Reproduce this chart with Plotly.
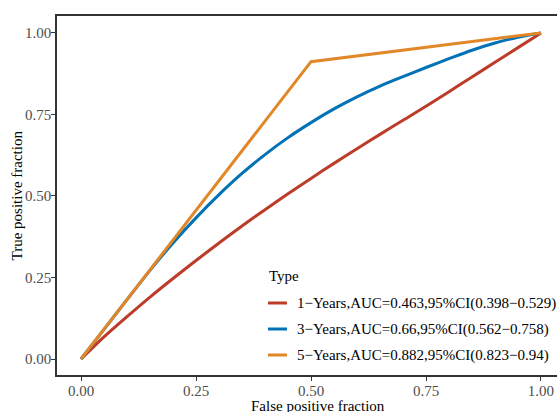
import plotly.graph_objects as go

# ---- data ----
fpr = [0.00, 0.05, 0.10, 0.15, 0.20, 0.25, 0.30, 0.35, 0.40, 0.45, 0.50,
       0.55, 0.60, 0.65, 0.70, 0.75, 0.80, 0.85, 0.90, 0.95, 1.00]
tpr_1y = [0.000, 0.068, 0.130, 0.190, 0.247, 0.302, 0.356, 0.408, 0.458, 0.507, 0.554,
          0.600, 0.645, 0.689, 0.732, 0.775, 0.820, 0.865, 0.910, 0.955, 1.000]
tpr_3y = [0.000, 0.091, 0.182, 0.272, 0.356, 0.433, 0.504, 0.569, 0.627, 0.679, 0.725,
          0.767, 0.804, 0.837, 0.866, 0.894, 0.921, 0.947, 0.969, 0.987, 1.000]
fpr_5y = [0.0, 0.5, 1.0]
tpr_5y = [0.0, 0.912, 1.0]

series_names = ["1\u2212Years,AUC=0.463,95%CI(0.398\u22120.529)",
                "3\u2212Years,AUC=0.66,95%CI(0.562\u22120.758)",
                "5\u2212Years,AUC=0.882,95%CI(0.823\u22120.94)"]
colors = ["#BC3C29", "#0072B5", "#E18727"]
tick_vals = [0, 0.25, 0.5, 0.75, 1.0]
tick_text = ["0.00", "0.25", "0.50", "0.75", "1.00"]

# ---- layout geometry (pixels) ----
W, H = 557, 412
ML, MT, MB, MR = 57, 16, 37, 0
PW, PH = W - ML - MR, H - MT - MB


def px(xp):
    return (xp - ML) / PW


def py(yp):
    return (H - MB - yp) / PH


FONT = "Liberation Serif"

fig = go.Figure()
xs = [fpr, fpr, fpr_5y]
ys = [tpr_1y, tpr_3y, tpr_5y]
for i in range(3):
    fig.add_trace(go.Scatter(
        x=xs[i], y=ys[i], mode="lines", name=series_names[i],
        line=dict(color=colors[i], width=3,
                  shape="spline" if i < 2 else "linear", smoothing=0.8),
        showlegend=False, hoverinfo="skip"))

axis_common = dict(
    showgrid=False, zeroline=False, showline=True, linecolor="#333333",
    linewidth=1.5, ticks="outside", ticklen=4, tickwidth=1, tickcolor="#333333",
    tickfont=dict(family=FONT, size=15, color="#4D4D4D"),
    tickvals=tick_vals, ticktext=tick_text, ticklabelstandoff=-3)

fig.update_xaxes(range=[-0.0522, 1.0348], mirror=True, **axis_common)
fig.update_yaxes(range=[-0.049, 1.052], mirror=False, **axis_common)

annotations = [
    dict(text="False positive fraction", x=px(318), y=py(406), xref="paper", yref="paper",
         xanchor="center", yanchor="middle", showarrow=False,
         font=dict(family=FONT, size=15, color="black")),
    dict(text="True positive fraction", x=px(16), y=py(195.5), xref="paper", yref="paper",
         xanchor="center", yanchor="middle", showarrow=False, textangle=-90,
         font=dict(family=FONT, size=15, color="black")),
    dict(text="Type", x=px(267), y=py(276), xref="paper", yref="paper",
         xanchor="left", yanchor="middle", showarrow=False,
         font=dict(family=FONT, size=15, color="black")),
]
shapes = []
leg_y = [303, 329, 355]
for i in range(3):
    shapes.append(dict(type="line", xref="paper", yref="paper",
                       x0=px(268), x1=px(287), y0=py(leg_y[i]), y1=py(leg_y[i]),
                       line=dict(color=colors[i], width=3)))
    annotations.append(dict(text=series_names[i], x=px(295), y=py(leg_y[i]),
                            xref="paper", yref="paper", xanchor="left", yanchor="middle",
                            showarrow=False, font=dict(family=FONT, size=15, color="black")))

fig.update_layout(width=W, height=H, margin=dict(l=ML, r=MR, t=MT, b=MB),
                  plot_bgcolor="white", paper_bgcolor="white",
                  font=dict(family=FONT, size=15, color="black"),
                  showlegend=False, annotations=annotations, shapes=shapes)

fig.write_html("out.html", config={"displayModeBar": False},
               post_script="document.body.style.margin='0';document.body.style.overflow='hidden';")
